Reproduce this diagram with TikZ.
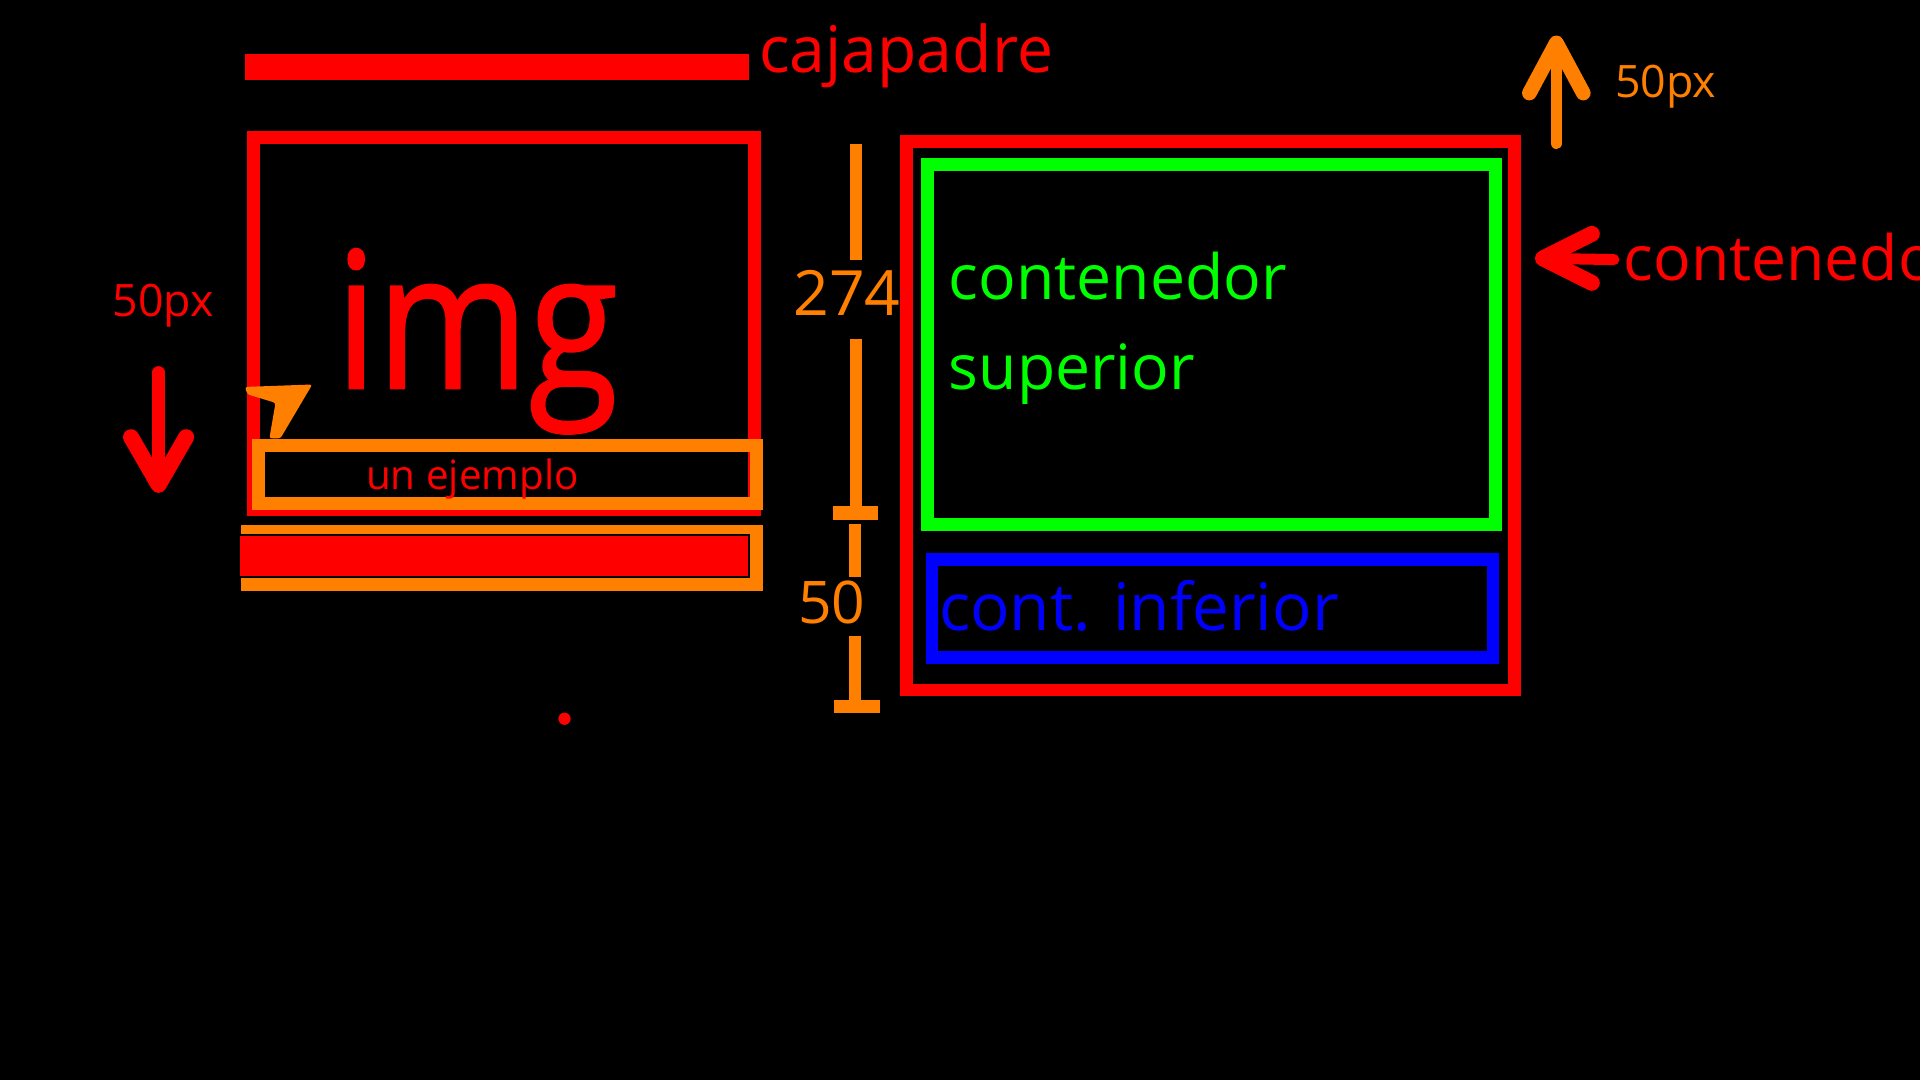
\documentclass[tikz,border=0pt]{standalone}
\usepackage{fontspec}
\usepackage{graphicx}
\setmainfont{Open Sans}
\newfontfamily\imgfont[FakeBold=1.2]{Open Sans}
\definecolor{cred}{RGB}{255,0,0}
\definecolor{corange}{RGB}{255,128,0}
\definecolor{cgreen}{RGB}{0,255,0}
\definecolor{cblue}{RGB}{0,0,255}
\tikzset{
  boxline/.style={draw=#1, line width=10.5pt, inner sep=0pt, outer sep=0pt, rectangle},
  txt/.style={inner sep=0pt, outer sep=0pt, anchor=base west, text=#1},
  bigfont/.style={font=\fontsize{51}{60}\selectfont},
  midfont/.style={font=\fontsize{36.5}{44}\selectfont},
  smallfont/.style={font=\fontsize{33}{40}\selectfont},
  arrowline/.style={draw=#1, line width=10pt, line cap=round, line join=round},
  dimline/.style={draw=corange, line width=10pt},
}
\begin{document}
\begin{tikzpicture}[x=1pt,y=-1pt]
\useasboundingbox (0,0) rectangle (1568,882);
\fill[black] (0,0) rectangle (1568,882);
\clip (0,0) rectangle (1568,882);

% top bar and title
\node[fill=cred, inner sep=0pt, minimum width=412pt, minimum height=21pt] (bar) at (406,54.5) {};
\node[txt=cred, font=\fontsize{52.5}{60}\selectfont] (cajapadre) at (620,59) {cajapadre};

% left parent box
\node[boxline=cred, minimum width=409pt, minimum height=303.5pt] (caja) at (411.5,264.25) {};
\node[txt=cred, font=\imgfont\fontsize{155}{160}\selectfont] (img) at (274,317) {\scalebox{0.86}[1]{img}};
\node[boxline=corange, minimum width=406.5pt, minimum height=47pt] (ejemplo) at (414.25,387.5) {};
\node[txt=cred, smallfont] (ejtxt) at (299,400) {un ejemplo};
\node[boxline=corange, minimum width=415pt, minimum height=43pt, line width=11pt] (ejemplo2) at (410,456) {};
\node[fill=cred, draw=black, line width=1.5pt, inner sep=0pt, minimum width=417pt, minimum height=34pt] (tapa) at (403.5,454) {};

% orange pointer
\coordinate (p1) at (200,316);
\fill[corange, rounded corners=2pt] (p1) -- (255,314) -- (229,358) -- (220,358) -- (225,329) -- (202,322) -- cycle;

% red dot
\node[circle, fill=cred, inner sep=0pt, minimum size=10pt] (dot) at (461,587) {};

% left 50px and down arrow
\node[txt=cred, midfont] (l50) at (92,258.5) {50px};
\coordinate (da1) at (129.5,304);
\coordinate (da2) at (129.5,396);
\coordinate (dal) at (107,357);
\coordinate (dar) at (152,357);
\draw[arrowline=cred] (da1) -- (da2);
\draw[arrowline=cred, line width=13pt] (dal) -- (da2) -- (dar);

% dimension lines
\coordinate (d1) at (699,118);
\coordinate (d2) at (699,212);
\coordinate (d3) at (699,277);
\coordinate (d4) at (699,414);
\coordinate (t1a) at (680,419);
\coordinate (t1b) at (717,419);
\coordinate (d5) at (698,428);
\coordinate (d6) at (698,471);
\coordinate (d7) at (698,519);
\coordinate (d8) at (698,572);
\coordinate (t2a) at (681,577);
\coordinate (t2b) at (719,577);
\draw[dimline] (d1) -- (d2);
\draw[dimline] (d3) -- (d4);
\draw[dimline, line width=11pt] (t1a) -- (t1b);
\draw[dimline] (d5) -- (d6);
\draw[dimline] (d7) -- (d8);
\draw[dimline, line width=11pt] (t2a) -- (t2b);
\node[txt=corange, font=\fontsize{51}{60}\selectfont] (n274) at (648,258) {274};
\node[txt=corange, font=\fontsize{48}{56}\selectfont] (n50) at (652,509.5) {50};

% right container
\node[boxline=cred, minimum width=496pt, minimum height=448pt] (cont) at (988.5,339.5) {};
\node[boxline=cgreen, minimum width=464pt, minimum height=294pt] (sup) at (989.5,281.5) {};
\node[boxline=cblue, minimum width=458pt, minimum height=80pt, line width=10pt] (inf) at (990,497) {};
\node[txt=cgreen, bigfont] (suptxt1) at (775,245) {contenedor};
\node[txt=cgreen, bigfont] (suptxt2) at (775,318) {superior};
\node[txt=cblue, font=\fontsize{53.5}{60}\selectfont] (inftxt) at (767,515) {cont. inferior};

% right labels and arrows
\coordinate (ua1) at (1271,117);
\coordinate (ua2) at (1271,35);
\coordinate (ual) at (1249,76);
\coordinate (uar) at (1293,76);
\draw[arrowline=corange, line width=9.5pt] (ua1) -- (ua2);
\draw[arrowline=corange, line width=12pt] (ual) -- (ua2) -- (uar);
\node[txt=corange, midfont] (r50) at (1319,79.5) {50px};

\coordinate (la1) at (1318,212);
\coordinate (la2) at (1260,211);
\coordinate (lau) at (1300,191);
\coordinate (lad) at (1300,231);
\draw[arrowline=cred, line width=9pt] (la1) -- (la2);
\draw[arrowline=cred, line width=13pt] (lau) -- (la2) -- (lad);
\node[txt=cred, bigfont] (conttxt) at (1326,229) {contenedor};
\end{tikzpicture}
\end{document}
